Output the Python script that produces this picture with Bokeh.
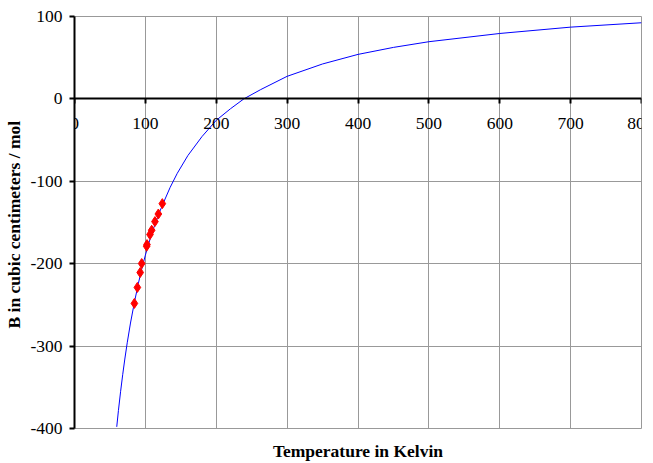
from bokeh.plotting import figure
from bokeh.models import Range1d, LinearAxis, FixedTicker, CustomJSTickFormatter
from bokeh.embed import file_html
from bokeh.resources import INLINE

# measured data points (Temperature K, B cm^3/mol)
data_T = [84.5, 88.7, 92.7, 94.8, 101.8, 102.3, 106.5, 108.9, 113.5, 118.3, 123.9]
data_B = [-248.2, -228.8, -210.7, -199.8, -178.8, -176.8, -164.6, -159.4, -148.9, -139.7, -127.1]

# fitted curve, values
curve_T = [59.6, 62, 65, 68, 71, 74.4, 79, 84.5, 90, 95, 100, 105, 110, 115, 120, 125,
           135, 145, 160, 180, 200, 220, 238.9, 262.7, 300, 350, 400, 450, 500, 600, 700, 800]
curve_B = [-398, -378, -355.4, -334.7, -315.7, -296, -272, -247, -224.4, -206, -189.6, -174.7,
           -161, -148.8, -137.4, -127, -107.3, -90.3, -68.7, -45.6, -26, -12, 0, 11.3,
           27.4, 42.4, 54.0, 62.5, 69.4, 79.4, 87.1, 92.4]

x_ticks = [0, 100, 200, 300, 400, 500, 600, 700, 800]
y_ticks = [-400, -300, -200, -100, 0, 100]

FONT = "Liberation Serif"
FSIZE = "17.5px"

p = figure(width=653, height=463, x_range=Range1d(0, 800), y_range=Range1d(-400, 100),
           output_backend="svg", toolbar_location=None,
           min_border_left=74, min_border_right=12, min_border_top=16, min_border_bottom=35,
           background_fill_color="white", border_fill_color="white")

p.outline_line_color = "#999999"
p.outline_line_width = 1

fmt = CustomJSTickFormatter(code="return tick.toFixed(0);")

# grid
p.xgrid.ticker = FixedTicker(ticks=x_ticks)
p.ygrid.ticker = FixedTicker(ticks=y_ticks)
p.grid.grid_line_color = "#999999"
p.grid.grid_line_width = 1

# x axis crossing at y = 0
xa = p.xaxis[0]
xa.fixed_location = 0
xa.ticker = FixedTicker(ticks=x_ticks)
xa.formatter = fmt
xa.axis_line_width = 2
xa.axis_line_color = "black"
xa.major_tick_in = 0
xa.major_tick_out = 5
xa.major_tick_line_width = 2
xa.minor_tick_line_color = None
xa.major_label_text_font = FONT
xa.major_label_text_font_size = FSIZE
xa.major_label_text_color = "black"
xa.major_label_standoff = 14

# x axis title at the bottom
lab = LinearAxis(axis_label="Temperature in Kelvin", ticker=FixedTicker(ticks=[]))
lab.axis_line_color = None
lab.major_tick_line_color = None
lab.minor_tick_line_color = None
lab.axis_label_text_font = FONT
lab.axis_label_text_font_size = FSIZE
lab.axis_label_text_font_style = "bold"
lab.axis_label_text_color = "black"
lab.axis_label_standoff = 12
p.add_layout(lab, "below")

# y axis
ya = p.yaxis[0]
ya.ticker = FixedTicker(ticks=y_ticks)
ya.formatter = fmt
ya.axis_line_width = 2
ya.axis_line_color = "black"
ya.major_tick_in = 0
ya.major_tick_out = 5
ya.major_tick_line_width = 2
ya.minor_tick_line_color = None
ya.major_label_text_font = FONT
ya.major_label_text_font_size = FSIZE
ya.major_label_text_color = "black"
ya.major_label_standoff = 7
ya.axis_label = "B  in cubic centimeters / mol"
ya.axis_label_text_font = FONT
ya.axis_label_text_font_size = FSIZE
ya.axis_label_text_font_style = "bold"
ya.axis_label_text_color = "black"
ya.axis_label_standoff = 3

p.line(curve_T, curve_B, line_color="#0000ff", line_width=1)
p.scatter(data_T, data_B, marker="diamond", size=10, fill_color="#ff0000", line_color="#ff0000")

open("out.html", "w").write(file_html(p, INLINE))
